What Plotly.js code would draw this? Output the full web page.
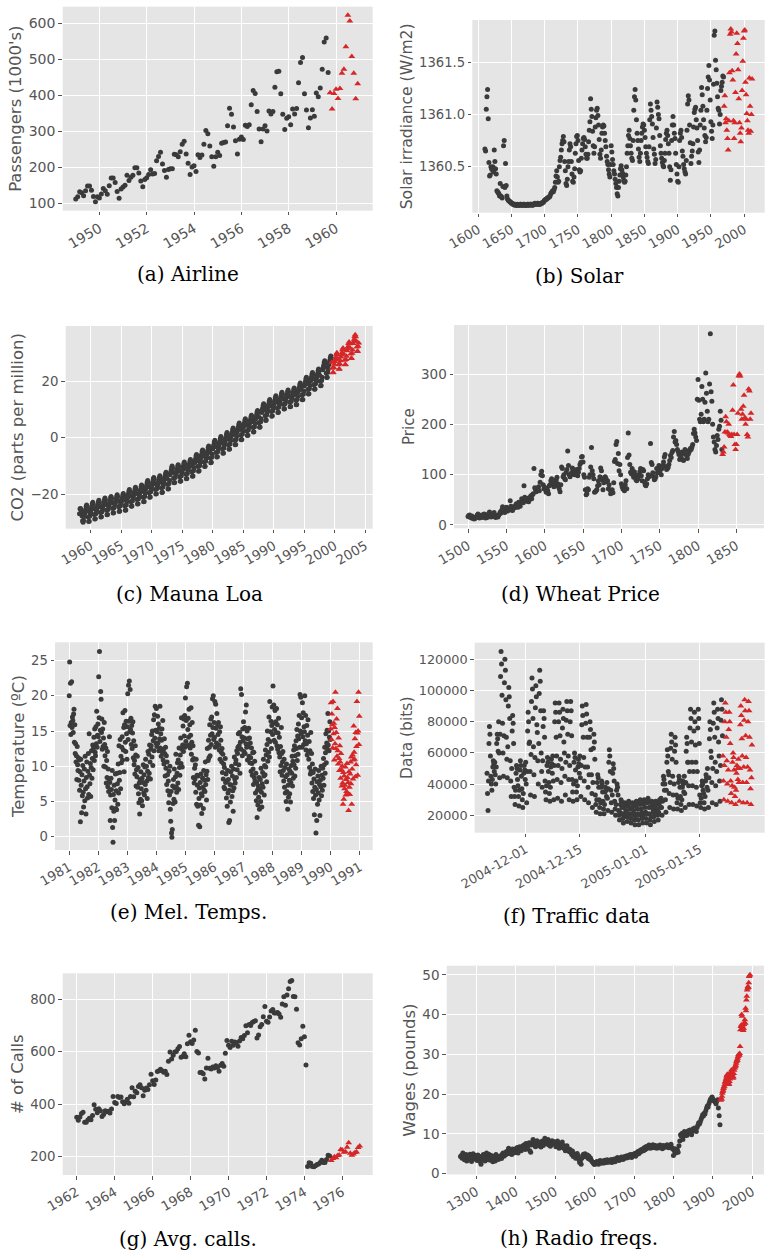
<!DOCTYPE html>
<html><head><meta charset="utf-8">
<script src="https://cdn.plot.ly/plotly-3.0.1.min.js"></script>
<style>html,body{margin:0;padding:0;background:#fff}#chart{width:768px;height:1256px}</style>
</head><body><div id="chart"></div>
<script>
// ---------- DATA ----------
// (a) Airline passengers, monthly from Jan 1949
const airlineTrain = [112,118,132,129,121,135,148,148,136,119,104,118,
115,126,141,135,125,149,170,170,158,133,114,140,
145,150,178,163,172,178,199,199,184,162,146,166,
171,180,193,181,183,218,230,242,209,191,172,194,
196,196,236,235,229,243,264,272,237,211,180,201,
204,188,235,227,234,264,302,293,259,229,203,229,
242,233,267,269,270,315,364,347,312,274,237,278,
284,277,317,313,318,374,413,405,355,306,271,306,
315,301,356,348,355,422,465,467,404,347,305,336,
340,318,362,348,363,435,491,505,404,359,310,337,
360,342,406,396,420,472,548,559,463];
const airlineTest = [407,362,405,417,391,419,461,472,535,622,606,508,461,390,432];

// (b) Solar irradiance, yearly from 1610
const solarTrain = [1360.67,1360.65,1361.05,1361.17,1361.24,1360.96,1360.54,1360.41,1360.42,1360.50,
1360.48,1360.47,1360.50,1360.45,1360.66,1360.55,1360.48,1360.43,1360.27,1360.26,
1360.25,1360.24,1360.22,1360.34,1360.22,1360.21,1360.20,1360.31,1360.70,1360.75,
1360.30,1360.53,1360.32,1360.22,1360.19,1360.18,1360.17,1360.17,1360.16,1360.16,1360.15,
1360.15,1360.14,1360.14,1360.14,1360.13,1360.14,1360.13,1360.13,1360.14,1360.13,
1360.13,1360.13,1360.14,1360.14,1360.13,1360.13,1360.13,1360.14,1360.14,1360.13,
1360.13,1360.13,1360.13,1360.14,1360.14,1360.13,1360.13,1360.14,1360.14,1360.14,
1360.13,1360.13,1360.14,1360.14,1360.15,1360.14,1360.14,1360.14,1360.15,1360.15,
1360.14,1360.14,1360.14,1360.15,1360.15,1360.15,1360.16,1360.16,1360.17,
1360.18,1360.18,1360.19,1360.19,1360.20,1360.20,1360.21,1360.21,1360.22,1360.24,
1360.25,1360.26,1360.27,1360.26,1360.28,1360.30,1360.35,1360.41,1360.46,1360.40,
1360.35,1360.36,1360.50,1360.56,1360.59,1360.66,1360.72,1360.75,1360.79,1360.74,
1360.55,1360.46,1360.34,1360.32,1360.38,1360.50,1360.55,1360.66,1360.72,1360.69,
1360.55,1360.43,1360.36,1360.35,1360.40,1360.48,1360.63,1360.72,1360.79,1360.80,
1360.75,1360.56,1360.47,1360.45,1360.46,1360.58,1360.66,1360.72,1360.77,1360.78,
1360.76,1360.69,1360.62,1360.58,1360.58,1360.62,1360.74,1360.85,1360.93,1361.15,
1361.05,1360.98,1360.84,1360.70,1360.63,1360.69,1360.88,1360.97,1361.04,1361.06,
1360.99,1360.90,1360.76,1360.62,1360.58,1360.66,1360.82,1360.88,1360.90,1360.89,
1360.82,1360.75,1360.69,1360.60,1360.55,1360.52,1360.47,1360.43,1360.40,1360.52,
1360.70,1360.64,1360.57,1360.52,1360.46,1360.43,1360.38,1360.34,1360.30,1360.24,
1360.22,1360.30,1360.36,1360.42,1360.48,1360.51,1360.47,1360.44,1360.40,1360.37,
1360.35,1360.36,1360.42,1360.50,1360.63,1360.70,1360.80,1360.85,1360.77,1360.70,
1360.63,1360.58,1360.56,1360.75,1361.04,1361.17,1361.24,1361.14,1360.95,1360.82,
1360.75,1360.67,1360.59,1360.55,1360.63,1360.75,1360.82,1360.88,1360.91,1360.90,
1360.85,1360.78,1360.69,1360.63,1360.59,1360.55,1360.53,1360.69,1360.95,1361.10,
1361.04,1360.98,1360.91,1360.78,1360.67,1360.62,1360.53,1360.57,1360.87,1361.12,
1361.07,1361.00,1360.96,1360.80,1360.70,1360.63,1360.58,1360.54,1360.51,1360.50,
1360.56,1360.63,1360.76,1360.82,1360.85,1360.80,1360.72,1360.63,1360.50,1360.37,
1360.47,1360.75,1360.90,1360.98,1360.90,1360.82,1360.77,1360.63,1360.52,1360.43,
1360.36,1360.35,1360.50,1360.75,1360.82,1360.85,1360.78,1360.65,1360.60,1360.52,
1360.48,1360.45,1360.43,1360.56,1360.85,1361.10,1361.18,1361.14,1360.90,1360.73,
1360.53,1360.60,1360.65,1360.72,1360.88,1361.02,1361.05,1361.07,1360.95,1360.87,
1360.75,1360.64,1360.54,1360.66,1360.90,1361.04,1361.26,1361.19,1361.08,1360.95,
1360.87,1360.80,1360.74,1360.78,1361.04,1361.25,1361.36,1361.47,1361.33,1361.14,
1360.93,1360.84,1360.77,1360.90,1361.29,1361.76,1361.80,1361.52,1361.43,1361.30,
1361.17,1361.06,1361.04,1360.91,1361.00,1361.23,1361.27,1361.31,1361.37,1361.36];
const solarTest = [1361.08,1361.18,1360.92,1360.96,1360.85,1360.77,1360.66,1360.94,1361.40,1361.77,
1361.82,1361.79,1361.42,1361.33,1360.94,1360.77,1360.92,1361.21,1361.58,1361.78,
1361.68,1361.43,1361.15,1360.92,1360.82,1360.74,1360.87,1361.23,1361.51,1361.73,
1361.80,1361.81,1361.31,1361.19,1361.01,1360.94,1360.85,1360.82,1361.35,1361.08,
1360.84,1361.00,1361.34];

// (c) Mauna Loa CO2 (centred), monthly from Mar 1958
const co2Train = [-26.8,-25.1,-25.0,-25.4,-26.6,-27.6,-29.3,-29.8,-29.2,-27.8,
-26.8,-26.1,-25.3,-24.3,-23.7,-24.4,-25.9,-28.0,-29.6,-29.5,-27.7,-26.6,
-25.9,-25.2,-24.4,-23.4,-22.8,-23.5,-25.0,-27.1,-28.7,-28.6,-26.8,-25.7,
-25.2,-24.5,-23.7,-22.7,-22.1,-22.8,-24.3,-26.4,-28.0,-27.9,-26.1,-25.0,
-24.4,-23.7,-22.9,-21.9,-21.3,-22.0,-23.5,-25.6,-27.2,-27.1,-25.3,-24.2,
-23.8,-23.1,-22.3,-21.3,-20.7,-21.4,-22.9,-25.0,-26.6,-26.5,-24.7,-23.6,
-23.2,-22.5,-21.7,-20.7,-20.1,-20.8,-22.3,-24.4,-26.0,-25.9,-24.1,-23.0,
-22.8,-22.1,-21.3,-20.3,-19.7,-20.4,-21.9,-24.0,-25.6,-25.5,-23.7,-22.6,
-21.4,-20.7,-19.9,-18.9,-18.3,-19.0,-20.5,-22.6,-24.2,-24.1,-22.3,-21.2,
-20.6,-19.9,-19.1,-18.1,-17.5,-18.2,-19.7,-21.8,-23.4,-23.3,-21.5,-20.4,
-19.8,-19.1,-18.3,-17.3,-16.7,-17.4,-18.9,-21.0,-22.6,-22.5,-20.7,-19.6,
-18.2,-17.5,-16.7,-15.7,-15.1,-15.8,-17.3,-19.4,-21.0,-20.9,-19.1,-18.0,
-17.1,-16.4,-15.6,-14.6,-14.0,-14.7,-16.2,-18.3,-19.9,-19.8,-18.0,-16.9,
-16.5,-15.8,-15.0,-14.0,-13.4,-14.1,-15.6,-17.7,-19.3,-19.2,-17.4,-16.3,
-15.3,-14.6,-13.8,-12.8,-12.2,-12.9,-14.4,-16.5,-18.1,-18.0,-16.2,-15.1,
-13.1,-12.4,-11.6,-10.6,-10.0,-10.7,-12.2,-14.3,-15.9,-15.8,-14.0,-12.9,
-12.6,-11.9,-11.1,-10.1,-9.5,-10.2,-11.7,-13.8,-15.4,-15.3,-13.5,-12.4,
-11.7,-11.0,-10.2,-9.2,-8.6,-9.3,-10.8,-12.9,-14.5,-14.4,-12.6,-11.5,
-10.8,-10.1,-9.3,-8.3,-7.7,-8.4,-9.9,-12.0,-13.6,-13.5,-11.7,-10.6,
-9.0,-8.3,-7.5,-6.5,-5.9,-6.6,-8.1,-10.2,-11.8,-11.7,-9.9,-8.8,
-7.4,-6.7,-5.9,-4.9,-4.3,-5.0,-6.5,-8.6,-10.2,-10.1,-8.3,-7.2,
-6.0,-5.3,-4.5,-3.5,-2.9,-3.6,-5.1,-7.2,-8.8,-8.7,-6.9,-5.8,
-4.0,-3.3,-2.5,-1.5,-0.9,-1.6,-3.1,-5.2,-6.8,-6.7,-4.9,-3.8,
-2.7,-2.0,-1.2,-0.2,0.4,-0.3,-1.8,-3.9,-5.5,-5.4,-3.6,-2.5,
-1.3,-0.6,0.2,1.2,1.8,1.1,-0.4,-2.5,-4.1,-4.0,-2.2,-1.1,
0.3,1.0,1.8,2.8,3.4,2.7,1.2,-0.9,-2.5,-2.4,-0.6,0.5,
2.1,2.8,3.6,4.6,5.2,4.5,3.0,0.9,-0.7,-0.6,1.2,2.3,
3.6,4.3,5.1,6.1,6.7,6.0,4.5,2.4,0.8,0.9,2.7,3.8,
4.8,5.5,6.3,7.3,7.9,7.2,5.7,3.6,2.0,2.1,3.9,5.0,
6.5,7.2,8.0,9.0,9.6,8.9,7.4,5.3,3.7,3.8,5.6,6.7,
8.9,9.6,10.4,11.4,12.0,11.3,9.8,7.7,6.1,6.2,8.0,9.1,
10.4,11.1,11.9,12.9,13.5,12.8,11.3,9.2,7.6,7.7,9.5,10.6,
11.7,12.4,13.2,14.2,14.8,14.1,12.6,10.5,8.9,9.0,10.8,11.9,
12.9,13.6,14.4,15.4,16.0,15.3,13.8,11.7,10.1,10.2,12.0,13.1,
13.7,14.4,15.2,16.2,16.8,16.1,14.6,12.5,10.9,11.0,12.8,13.9,
14.4,15.1,15.9,16.9,17.5,16.8,15.3,13.2,11.6,11.7,13.5,14.6,
16.2,16.9,17.7,18.7,19.3,18.6,17.1,15.0,13.4,13.5,15.3,16.4,
18.2,18.9,19.7,20.7,21.3,20.6,19.1,17.0,15.4,15.5,17.3,18.4,
19.9,20.6,21.4,22.4,23.0,22.3,20.8,18.7,17.1,17.2,19.0,20.1,
21.1,21.8,22.6,23.6,24.2,23.5,22.0,19.9,18.3,18.4,20.2,21.3,
24.0,24.7,25.5,26.5,27.1,26.4,24.9,22.8,21.2,21.3,23.1,24.2,
25.7,26.4,27.2,28.2,28.8,28.1];
const co2Test = [26.6,24.5,22.9,23.0,24.8,25.9,
26.9,27.6,28.4,29.4,30.0,29.3,27.8,25.7,24.1,24.2,26.0,27.1,
28.5,29.2,30.0,31.0,31.6,30.9,29.4,27.3,25.7,25.8,27.6,28.7,
30.7,31.4,32.2,33.2,33.8,33.1,31.6,29.5,27.9,28.0,29.8,30.9,
33.2,33.9,34.7,35.7,36.3,35.6,34.1,32.0,30.4,30.5,32.3,33.4];

// (d) Wheat price index, yearly from 1500
const wheatTrain = [17,19,20,15,16,18,13,14,12,13, 16,15,20,22,18,14,16,17,20,15,
18,22,21,14,17,15,19,23,26,20, 16,17,19,22,25,17,15,18,19,16,
20,22,26,24,30,36,33,27,25,29, 35,32,28,31,34,48,37,30,29,33,
36,34,39,42,38,35,45,40,37,44, 52,48,44,78,55,50,47,51,53,46,
50,55,58,52,60,62,112,74,70,66, 72,70,76,68,85,100,107,98,80,72,
75,70,65,72,68,62,78,80,88,92, 84,80,76,78,86,90,95,82,76,72,
66,80,115,112,96,100,92,90,105,110, 147,118,100,96,100,104,113,107,110,100,
106,102,110,98,105,112,120,124,135,136, 125,100,95,70,60,62,72,70,95,100,
115,154,108,100,92,65,66,68,70,78, 88,80,96,113,108,90,70,84,95,96,
92,86,88,72,80,70,62,66,70,64, 84,126,130,160,166,122,142,108,120,100,
82,76,72,70,68,80,88,72,134,183, 139,120,105,102,112,100,95,106,100,90,
88,95,92,100,106,112,98,88,110,108, 86,80,78,82,92,100,96,98,162,124,
120,104,96,90,92,96,112,104,110,118, 106,110,100,112,118,125,135,140,116,110,
112,114,120,128,138,134,144,148,175,186, 165,168,160,150,146,140,130,132,138,145,
130,128,142,150,148,138,132,140,144,148, 152,150,155,160,182,190,183,175,168,250,
289,248,210,205,220,275,250,205,210,244, 302,262,226,205,210,280,380,265,246,200,
175,165,150,145,158,178,170,190,196,226, 208,150];
const wheatTest = [140,145,155,185,215,205,185,183,200,180,178,176,180,228,278,180,160,150,160,180,
222,296,300,296,230,210,220,236,258,213,200,210,180,175,270,266,210,222];

// (e) Melbourne daily minimum temperature, every 5th day from 1 Jan 1981
const melTrain = [
20.0,24.8,15.8,21.8,14.5,16.2,22.0,15.5,17.0,16.5,14.8,17.4,18.1,13.4,15.9,11.8,13.2,10.6,11.5,8.1,12.8,10.2,9.4,11.2,8.0,10.9,6.6,9.2,2.1,11.0,7.3,3.4,8.8,5.8,10.1,6.3,4.2,7.9,9.6,5.1,11.4,6.8,3.2,8.4,10.6,7.1,5.5,9.3,11.8,6.0,14.6,8.7,7.5,10.4,5.7,9.8,12.2,8.3,11.1,13.0,9.5,12.6,14.1,10.8,15.3,12.0,11.5,15.6,13.2,17.8,12.7,14.4,16.0,
14.2,22.7,16.9,26.3,13.5,15.1,20.6,19.5,14.8,16.7,12.4,15.3,12.8,14.0,10.0,16.2,13.1,11.5,9.9,12.6,7.6,10.8,8.4,12.1,7.1,9.6,6.4,8.2,14.2,7.7,2.3,5.9,8.3,6.7,4.1,9.4,1.3,-0.8,6.0,3.6,7.3,2.3,5.2,8.9,4.0,6.5,3.8,9.0,7.5,4.6,10.3,6.2,12.9,8.0,9.1,13.8,6.8,11.4,10.5,12.7,14.2,10.9,17.6,12.3,15.5,9.2,15.9,17.9,13.4,12.1,16.4,14.6,11.0,
15.6,20.3,13.8,21.5,16.4,22.1,14.9,20.9,15.2,16.8,13.1,15.8,12.5,14.7,16.3,11.2,13.6,10.2,10.8,8.9,12.9,11.6,7.2,9.5,8.5,11.4,7.0,9.8,6.1,4.8,7.6,3.2,8.1,5.3,9.2,6.8,5.1,8.3,4.4,7.7,10.2,6.2,8.8,5.9,9.9,7.4,11.0,6.6,10.0,7.9,5.4,9.3,12.1,8.4,11.7,9.0,13.0,10.6,8.2,12.4,12.9,14.5,11.3,15.0,10.1,13.6,16.6,12.2,17.3,14.0,18.5,15.1,13.3,
18.2,12.8,14.9,17.1,13.3,16.0,12.2,15.4,13.9,18.5,12.6,14.6,11.4,13.7,15.3,12.0,16.5,10.9,12.4,10.3,13.9,11.8,8.6,12.7,9.7,11.5,7.4,10.6,8.8,6.5,7.9,4.8,9.3,5.9,10.0,3.9,2.2,6.4,0.5,-0.1,1.0,7.2,4.7,8.1,5.3,9.6,6.9,4.9,8.5,11.7,7.1,6.3,9.0,10.5,7.6,10.9,6.7,12.6,9.8,8.7,11.6,14.0,10.4,16.9,12.4,9.9,13.0,15.7,12.1,16.7,14.3,17.2,12.7,
19.7,13.5,16.5,21.3,12.9,21.8,15.2,16.8,14.1,18.1,13.0,15.9,12.6,14.4,18.3,11.7,13.4,16.2,10.9,12.9,8.4,11.1,7.6,9.7,8.2,10.2,6.3,11.0,4.6,8.7,7.3,4.3,8.6,1.6,5.4,6.9,1.4,7.7,4.5,8.9,6.1,3.3,5.8,8.3,7.0,4.0,9.4,6.6,8.0,6.4,10.6,7.4,8.8,5.2,9.3,12.5,8.1,10.8,13.7,11.2,12.7,15.9,11.5,14.4,16.7,13.1,17.0,14.6,19.6,15.5,20.0,13.8,16.2,
14.1,19.2,12.7,18.8,15.4,13.3,17.5,12.9,15.8,14.5,16.2,13.0,12.3,14.9,11.0,15.6,13.7,12.0,10.6,12.5,9.1,11.7,8.2,10.3,7.0,9.8,6.8,11.1,7.7,8.9,5.5,7.9,4.3,9.4,6.2,8.1,2.0,6.6,2.3,7.4,4.9,9.2,7.3,10.0,5.7,8.6,6.5,3.6,9.6,6.9,11.3,8.2,7.6,10.4,10.9,8.4,12.2,9.5,11.8,12.7,14.6,10.2,12.9,14.8,9.0,13.4,21.0,12.4,20.2,14.2,11.5,15.3,13.6,
16.3,12.1,14.0,15.5,11.8,17.7,13.2,18.7,12.7,15.0,10.9,13.9,12.8,15.4,11.4,14.0,10.5,13.3,11.2,9.3,12.6,10.4,8.7,11.9,9.6,7.4,12.0,8.4,10.7,7.9,6.2,9.0,5.1,7.7,2.7,6.6,4.5,7.2,5.6,8.4,3.9,6.8,8.1,5.0,9.7,6.3,4.2,7.5,9.1,7.0,11.0,8.6,5.9,10.1,8.8,12.3,9.9,11.6,7.8,13.1,15.0,10.7,13.8,12.0,17.0,11.3,19.2,13.5,14.9,16.4,12.5,15.8,18.4,
14.5,21.4,16.1,18.7,13.7,15.2,17.9,13.4,16.3,14.8,18.2,12.9,15.9,12.4,14.7,16.8,11.9,14.1,11.3,9.2,12.8,10.1,15.5,11.8,8.7,10.6,12.1,9.4,7.9,11.0,7.0,9.8,6.2,8.5,5.0,10.3,6.4,8.8,3.9,7.3,5.6,9.6,8.0,6.1,9.3,4.9,7.7,10.1,9.0,11.4,7.2,10.7,8.3,12.3,10.2,12.9,8.6,11.5,9.7,13.6,12.5,15.2,10.8,14.3,11.7,16.0,13.9,17.2,12.7,20.2,15.0,19.8,14.6,
16.9,12.7,19.0,14.2,17.6,13.1,15.6,14.9,20.0,13.6,17.2,12.3,13.2,15.8,11.6,14.4,16.6,12.1,11.0,13.5,9.8,12.2,8.9,14.8,9.3,11.8,7.6,10.3,6.4,9.1,5.4,8.2,3.1,7.0,9.6,5.9,0.5,6.7,2.3,7.8,4.6,8.6,6.2,9.4,5.2,7.4,3.0,8.0,7.1,10.0,5.8,8.7,6.6,9.7,8.3,11.1,7.3,10.2,12.7,9.0,11.9,14.6,10.5,13.3,15.1,12.4,17.5,13.0,15.0,12.2,14.1,16.3,13.8];
const melTest = [15.3,19.0,13.8,17.4,15.9,12.6,19.2,14.6,16.1,10.9,15.5,13.2,20.5,12.5,14.8,16.7,11.4,18.2,12.2,10.3,14.0,11.1,9.4,12.9,10.6,8.3,11.8,9.5,7.2,10.0,7.6,4.6,9.1,5.3,8.6,6.8,7.3,9.9,5.9,8.1,6.4,10.4,8.4,6.0,7.7,3.7,9.2,7.0,6.0,8.9,10.6,7.5,11.3,4.6,9.6,11.6,8.2,10.9,15.7,12.0,11.0,13.9,8.5,14.8,10.2,12.8,19.2,14.7,8.7,15.0,20.5,13.1,17.1];

// (f) Internet traffic (thousands of bits), 3-hourly from day -10 (= 2004-11-21)
const trafficTrainK = [
47,34,23,42,66,77,72,58, 45,40,36,43,51,55,53,48, 54,46,40,51,66,72,69,61,
80,60,44,72,109,125,117,97, 79,60,45,71,105,120,113,94, 70,56,44,64,90,102,96,82,
55,42,32,50,74,84,79,66, 38,32,27,36,47,52,50,43, 39,32,26,36,49,55,52,45,
37,30,25,34,47,52,49,43, 54,40,28,48,74,86,80,66, 67,48,33,59,93,108,101,82,
64,46,32,57,89,103,96,78, 73,55,40,66,98,113,106,87, 60,48,38,55,77,87,82,70,
42,35,30,39,52,57,54,48, 41,34,29,38,51,56,53,47, 58,42,30,52,80,92,86,70,
58,43,31,52,80,92,86,71, 56,41,29,50,76,88,82,67, 60,45,33,54,81,93,87,72,
58,43,30,52,80,93,87,71, 43,35,29,40,54,60,57,49, 42,35,30,39,51,56,53,47,
58,44,32,52,78,90,84,70, 57,42,30,51,79,91,85,70, 51,38,28,46,70,80,75,62,
46,34,25,41,63,72,67,56, 33,27,22,30,41,46,44,38, 30,25,21,28,38,42,40,35,
29,24,21,27,35,38,36,32, 41,31,23,37,54,62,58,48, 36,28,22,33,47,53,50,42,
29,24,20,27,36,40,38,33, 23,20,17,22,27,30,29,25, 21,18,15,20,25,28,27,23,
22,19,16,21,26,29,28,24, 21,18,15,20,25,28,27,23, 21,17,14,19,26,29,28,24,
21,17,14,20,27,30,28,24, 22,18,15,20,27,30,29,25, 22,18,15,21,28,31,29,25,
21,17,14,19,26,29,28,24, 22,19,16,21,26,29,28,24, 23,20,17,22,27,30,29,25,
31,25,20,29,40,45,43,36, 40,30,22,36,54,62,58,48, 46,34,25,41,63,72,67,56,
45,33,24,40,61,70,65,54, 33,28,24,31,41,45,43,38, 32,27,23,30,38,42,40,35,
45,34,25,41,61,70,66,54, 54,39,27,48,76,88,82,67, 54,39,27,48,74,86,80,65,
54,38,26,48,76,88,82,66, 33,28,25,31,39,42,40,36, 34,28,24,32,42,46,44,38,
50,36,25,44,69,80,75,61, 57,41,28,50,79,92,86,70, 54,39,27,48,76,88,82,67,
58,42,29,52,81,94,88,71];
const trafficTestK = [58,42,30,52,80,92,86,70, 55,40,29,49,75,86,80,66, 42,34,28,39,54,60,57,49,
38,32,27,36,47,52,50,43, 56,41,29,50,78,90,84,69, 58,41,28,51,81,94,87,71,
57,41,28,51,80,93,87,70, 49,37,27,44,65];
const trafficTickDays = [0,14,31,45];
const trafficTickLabels = ['2004-12-01','2004-12-15','2005-01-01','2005-01-15'];

// (g) Average daily calls, monthly from Jan 1962
const callsTrain = [350,339,351,364,369,331,331,340,346,341,357,398,
381,367,383,375,353,361,375,371,373,366,382,429,
406,403,429,425,427,409,402,409,419,404,429,463,
428,449,444,467,474,463,432,453,462,456,474,514,
489,475,492,525,527,533,527,522,526,513,564,599,
572,587,599,601,611,620,579,582,592,581,630,663,
638,631,645,682,601,595,521,521,516,496,538,575,
537,534,542,538,547,540,526,548,555,545,594,643,
625,616,640,625,637,634,621,641,654,649,662,699,
672,704,700,711,715,718,652,664,695,704,733,772,
716,712,732,755,761,748,748,750,744,731,782,810,
777,816,840,868,872,811,810,762,634,626,649,697,
657,549,162,177,175,162,161,165,170,172,178,186,
178,178,189,205,202];
const callsTest = [185,193,200,196,204,206,227,225,217,219,236,253,213,205,210,216,218,235,241];

// (h) Real wages (pounds), every 2nd year 1260-1918, then yearly 1920-1994
const wagesTrain = [4.3,4.6,3.9,5.2,4.1,3.5,4.4,4.8,3.2,4.0, 4.5,3.6,4.9,3.8,3.1,4.2,5.0,4.4,3.7,4.6,
4.1,3.3,4.7,3.9,4.4,3.0,2.4,3.6,4.2,4.8, 3.8,3.2,4.5,5.2,4.0,3.5,4.9,4.3,3.4,4.6,
4.2,3.0,3.7,4.4,3.2,4.8,3.9,4.1,3.6,4.3, 4.0,4.5,3.8,4.9,5.2,4.4,5.0,4.7,5.5,5.0,
5.8,6.4,5.1,6.0,5.5,4.8,6.2,5.7,6.1,5.3, 6.3,5.6,6.6,5.2,6.0,6.8,6.2,5.8,6.5,7.0,
6.7,7.3,6.1,7.6,6.9,6.3,7.1,7.8,5.8,5.4, 7.2,7.9,8.6,7.5,8.1,6.8,7.4,8.3,7.0,7.7,
7.3,8.0,6.7,7.6,8.2,7.1,7.8,8.9,8.4,8.0, 7.5,8.6,7.2,8.0,6.9,7.7,8.3,7.4,8.1,7.6,
7.9,6.8,7.3,8.2,7.0,6.4,7.6,6.9,7.2,8.0, 6.5,7.1,6.2,5.8,6.6,7.0,5.9,6.3,5.5,6.1,
5.4,4.8,5.7,4.3,5.0,4.6,3.9,4.4,5.1,4.5, 3.6,2.8,3.2,2.4,3.9,4.6,4.9,4.3,5.0,4.5,
4.2,4.7,3.8,4.4,3.6,3.9,3.3,3.0,2.8,2.5, 2.3,2.9,2.6,3.1,2.7,2.4,3.0,3.3,2.8,2.6,
3.2,2.9,2.7,3.4,3.0,2.8,3.5,3.1,2.9,3.2, 3.3,3.6,2.8,3.4,3.1,3.7,3.0,3.5,3.8,4.1,
3.5,3.3,3.9,3.6,4.2,3.8,3.6,4.0,4.3,3.9, 4.2,4.5,4.0,4.4,4.7,4.3,4.8,4.1,4.5,4.9,
4.6,5.1,4.4,5.3,4.9,5.6,5.0,5.8,5.4,6.0, 5.7,6.2,5.8,6.5,6.0,6.8,6.3,6.9,6.6,7.2,
6.7,6.4,7.0,6.6,7.3,6.8,6.5,7.1,6.9,6.4, 6.8,7.0,6.5,7.2,6.7,6.9,6.3,7.1,6.6,6.8,
7.0,6.7,7.3,6.9,6.5,7.1,6.8,7.4,6.6,6.2, 4.6,5.8,6.3,5.2,5.6,6.0,5.4,7.0,8.2,9.8,
9.4,10.2,8.6,9.5,10.6,9.8,10.4,9.6,10.1,10.8, 10.2,11.0,10.5,9.8,10.7,11.3,10.9,11.5,11.2,10.6,
11.6,12.2,12.8,12.5,13.0,13.6,14.2,14.8,14.5,15.2, 15.0,15.8,16.5,17.0,16.8,17.6,18.2,18.7,19.0,19.3,
18.8,18.4,18.2,18.0,17.6,18.3,18.6,16.5,14.6,12.3];
const wagesTest = [18.5,19.0,18.7,19.5,20.2,20.7,21.0,21.4,21.8,22.0,
22.4,23.0,23.2,23.6,24.0,24.5,24.9,24.6,25.0,24.4,
22.8,22.4,23.2,23.8,24.2,24.9,25.6,26.1,25.3,25.0,
24.5,24.0,24.3,25.2,26.0,26.5,26.8,27.0,27.3,27.8,
28.2,28.6,28.5,29.0,29.5,29.9,30.0,29.8,30.2,32.0,
36.2,37.0,37.4,40.0,39.6,37.2,36.4,36.0,36.6,37.5,
38.0,38.7,37.8,41.6,41.0,43.7,44.6,46.2,46.6,47.1,
46.8,48.0,49.6,49.8,50.0];

// ---------- PANELS ----------
const W = 768, H = 1256;
const panels = [
 {train: airlineTrain, test: airlineTest, t0: 1949, dt: 1/12, testDt: 1/12,
  box: [62.7, 372.7, 6.7, 210.7], xr: [1948.45, 1961.55], yr: [79.4, 646],
  xt: [1950,1952,1954,1956,1958,1960], yt: [100,200,300,400,500,600],
  ytitle: "Passengers (1000's)", tf: 14, ttf: 16.5, cap: '(a) Airline', cx: 188, cy: 274},
 {train: solarTrain, test: solarTest, t0: 1610, dt: 1, testDt: 1,
  box: [472.3, 764.7, 20, 212.7], xr: [1591, 2031], yr: [1360.059, 1361.906],
  xt: [1600,1650,1700,1750,1800,1850,1900,1950,2000], yt: [1360.5,1361.0,1361.5], yfmt: '.1f',
  ytitle: 'Solar irradiance (W/m2)', tf: 13.2, ttf: 15.6, cap: '(b) Solar', cx: 579, cy: 276},
 {train: co2Train, test: co2Test, t0: 1958 + 2/12, dt: 1/12, testDt: 1/12,
  box: [65.7, 372.7, 326, 528.7], xr: [1955.9, 2006.2], yr: [-32.1, 39.4],
  xt: [1960,1965,1970,1975,1980,1985,1990,1995,2000,2005], yt: [-20,0,20],
  ytitle: 'CO2 (parts per million)', tf: 13.3, ttf: 16.5, cap: '(c) Mauna Loa', cx: 189, cy: 594},
 {train: wheatTrain, test: wheatTest, t0: 1500, dt: 1, testDt: 1,
  box: [454, 764, 325, 528.3], xr: [1481.7, 1886], yr: [-6.6, 397.4],
  xt: [1500,1550,1600,1650,1700,1750,1800,1850], yt: [0,100,200,300],
  ytitle: 'Price', tf: 13.5, ttf: 15, cap: '(d) Wheat Price', cx: 580, cy: 594},
 {train: melTrain, test: melTest, t0: 1981, dt: 5/365.25, testDt: 5/365.25,
  box: [55, 372.7, 642.3, 850], xr: [1980.51, 1991.44], yr: [-1.9, 27.6],
  xt: [1981,1982,1983,1984,1985,1986,1987,1988,1989,1990,1991], yt: [0,5,10,15,20,25],
  ytitle: 'Temperature (ºC)', tf: 13.2, ttf: 16.5, cap: '(e) Mel. Temps.', cx: 188, cy: 912},
 {train: trafficTrainK.map(v => v * 1000), test: trafficTestK.map(v => v * 1000), t0: -10, dt: 1/8, testDt: 1/8,
  box: [474.7, 764.7, 642.7, 832.7], xr: [-13.19, 61.8], yr: [8846, 130640],
  xt: trafficTickDays, xtt: trafficTickLabels, yt: [20000,40000,60000,80000,100000,120000], yfmt: 'd',
  ytitle: 'Data (bits)', tf: 12.8, ttf: 15.5, cap: '(f) Traffic data', cx: 576, cy: 916},
 {train: callsTrain, test: callsTest, t0: 1962, dt: 1/12, testDt: 1/12,
  box: [62.7, 372.7, 973.3, 1175], xr: [1961.26, 1977.6], yr: [130, 899],
  xt: [1962,1964,1966,1968,1970,1972,1974,1976], yt: [200,400,600,800],
  ytitle: '# of Calls', tf: 13.3, ttf: 16.5, cap: '(g) Avg. calls.', cx: 188, cy: 1239},
 {train: wagesTrain, test: wagesTest, t0: 1260, dt: 2, testDt: 1,
  box: [446.7, 764, 965.7, 1174.5], xr: [1225, 2029.7], yr: [-0.2, 52.3],
  xt: [1300,1400,1500,1600,1700,1800,1900,2000], yt: [0,10,20,30,40,50],
  ytitle: 'Wages (pounds)', tf: 13.5, ttf: 16.5, cap: '(h) Radio freqs.', cx: 579, cy: 1238}
];

function times(start, step, n) { const t = []; for (let i = 0; i < n; i++) t.push(start + i * step); return t; }

const traces = [];
const layout = {
  width: W, height: H, margin: {l: 0, r: 0, t: 0, b: 0},
  paper_bgcolor: '#ffffff', plot_bgcolor: '#E5E5E5', showlegend: false,
  font: {family: 'DejaVu Sans', color: '#555555'}, annotations: []
};

panels.forEach((p, i) => {
  const s = i === 0 ? '' : String(i + 1);
  const xTrain = times(p.t0, p.dt, p.train.length);
  const testStart = p.t0 + p.train.length * p.dt;
  const xTest = times(testStart, p.testDt, p.test.length);
  traces.push({type: 'scatter', mode: 'markers', x: xTrain, y: p.train, xaxis: 'x' + s, yaxis: 'y' + s,
    marker: {color: '#3a3a3a', size: 5, line: {width: 0}}, hoverinfo: 'skip'});
  traces.push({type: 'scatter', mode: 'markers', x: xTest, y: p.test, xaxis: 'x' + s, yaxis: 'y' + s,
    marker: {color: '#d62728', size: 6, symbol: 'triangle-up', line: {width: 0}}, hoverinfo: 'skip'});
  const common = {showgrid: true, gridcolor: '#ffffff', gridwidth: 1, zeroline: false, showline: false,
    ticks: 'outside', ticklen: 3.5, tickwidth: 1, tickcolor: '#555555',
    tickfont: {family: 'DejaVu Sans', size: p.tf, color: '#555555'}, fixedrange: true};
  layout['xaxis' + s] = Object.assign({}, common, {
    domain: [p.box[0] / W, p.box[1] / W], range: p.xr, anchor: 'y' + s,
    tickmode: 'array', tickvals: p.xt, ticktext: p.xtt || p.xt.map(String), tickangle: -30});
  layout['yaxis' + s] = Object.assign({}, common, {
    domain: [1 - p.box[3] / H, 1 - p.box[2] / H], range: p.yr, anchor: 'x' + s,
    tickmode: 'array', tickvals: p.yt, tickformat: p.yfmt || '',
    title: {text: p.ytitle, font: {family: 'DejaVu Sans', size: p.ttf, color: '#555555'}, standoff: 2}});
  layout.annotations.push({xref: 'paper', yref: 'paper', x: p.cx / W, y: 1 - p.cy / H,
    xanchor: 'center', yanchor: 'middle', showarrow: false, text: p.cap,
    font: {family: 'DejaVu Serif', size: 20, color: '#000000'}});
});

Plotly.newPlot('chart', traces, layout, {staticPlot: true, displayModeBar: false});
</script></body></html>
